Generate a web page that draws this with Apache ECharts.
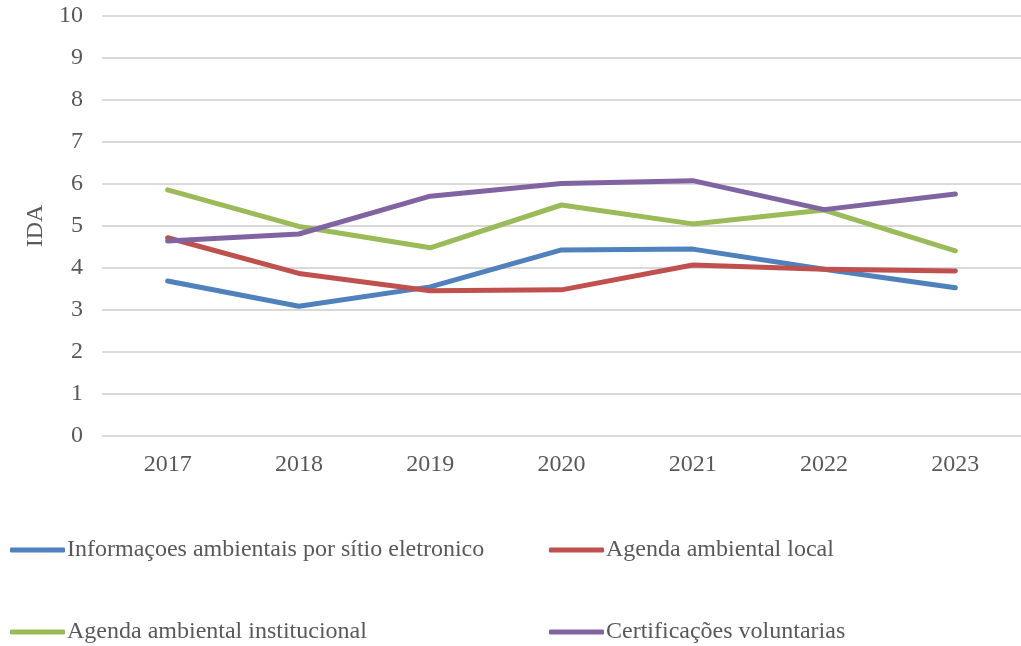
<!DOCTYPE html>
<html>
<head>
<meta charset="utf-8">
<script src="https://cdn.jsdelivr.net/npm/echarts@6/dist/echarts.min.js"></script>
<style>
  html, body { margin: 0; padding: 0; background: #fff; }
  #chart { width: 1021px; height: 646px; }
</style>
</head>
<body>
<div id="chart"></div>
<script>
// anos
const years = ['2017', '2018', '2019', '2020', '2021', '2022', '2023']
// valores IDA por indicador
const informacoes = [3.69, 3.09, 3.55, 4.43, 4.45, 3.97, 3.53]
const agendaLocal = [4.72, 3.87, 3.46, 3.48, 4.07, 3.97, 3.93]
const agendaInstitucional = [5.86, 4.99, 4.48, 5.5, 5.05, 5.38, 4.41]
const certificacoes = [4.64, 4.81, 5.71, 6.01, 6.08, 5.39, 5.76]

const names = [
  'Informaçoes ambientais por sítio eletronico',
  'Agenda ambiental local',
  'Agenda ambiental institucional',
  'Certificações voluntarias'
]
const colors = ['#4F81BD', '#C0504D', '#9BBB59', '#8064A2']
const values = [informacoes, agendaLocal, agendaInstitucional, certificacoes]

const font = 'Liberation Serif, Times New Roman, serif'
const textColor = '#595959'

// posicao de cada item da legenda
const legendPos = [
  { left: 10, top: 538 },
  { left: 549, top: 538 },
  { left: 10, top: 620 },
  { left: 549, top: 620 }
]

const option = {
  backgroundColor: '#fff',
  animation: false,
  color: colors,
  grid: {
    left: 102,
    right: 0,
    top: 16,
    bottom: 210
  },
  legend: names.map((n, i) => ({
    data: [n],
    left: legendPos[i].left,
    top: legendPos[i].top,
    padding: 0,
    icon: 'roundRect',
    itemWidth: 55,
    itemHeight: 5,
    itemGap: 0,
    textStyle: {
      fontFamily: font,
      fontSize: 24,
      color: textColor,
      padding: [0, 0, 0, -3]
    }
  })),
  xAxis: {
    type: 'category',
    data: years,
    boundaryGap: true,
    axisLine: { show: false },
    axisTick: { show: false },
    axisLabel: {
      margin: 17,
      fontFamily: font,
      fontSize: 24,
      color: textColor
    }
  },
  yAxis: {
    type: 'value',
    min: 0,
    max: 10,
    interval: 1,
    name: 'IDA',
    nameLocation: 'middle',
    nameGap: 51,
    nameTextStyle: {
      fontFamily: font,
      fontSize: 24,
      color: textColor
    },
    axisLabel: {
      margin: 19,
      fontFamily: font,
      fontSize: 24,
      color: textColor
    },
    splitLine: {
      lineStyle: { color: '#D9D9D9', width: 2 }
    }
  },
  series: names.map((n, i) => ({
    name: n,
    type: 'line',
    data: values[i],
    symbol: 'none',
    lineStyle: { width: 5, color: colors[i], cap: 'round', join: 'round' },
    itemStyle: { color: colors[i] }
  }))
}

const chart = echarts.init(document.getElementById('chart'))
chart.setOption(option)
</script>
</body>
</html>
